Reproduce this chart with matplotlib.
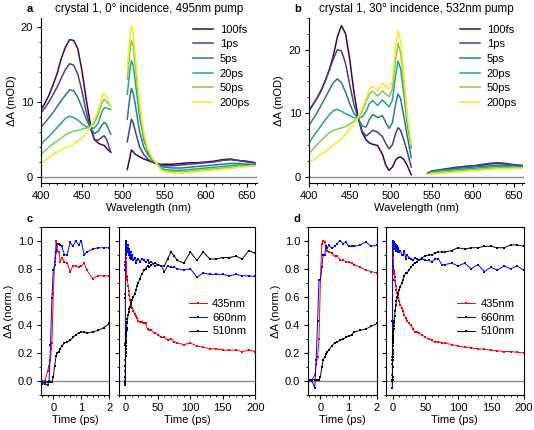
import numpy as np
import matplotlib
matplotlib.use("Agg")
import matplotlib.pyplot as plt
from matplotlib.ticker import MultipleLocator

plt.rcParams['font.family'] = ['Liberation Sans', 'DejaVu Sans']
plt.rcParams['font.size'] = 8
plt.rcParams['xtick.major.size'] = 3
plt.rcParams['ytick.major.size'] = 3
plt.rcParams['xtick.minor.size'] = 1.6
plt.rcParams['ytick.minor.size'] = 1.6
plt.rcParams['xtick.major.pad'] = 2.5
plt.rcParams['ytick.major.pad'] = 2.5
plt.rcParams['axes.linewidth'] = 0.8

delays = ['100fs', '1ps', '5ps', '20ps', '50ps', '200ps']

# ---- panel a: 0 deg incidence, 495nm pump ----
a_wl_vis = [400, 405, 410, 415, 420, 425, 430, 435, 440, 445, 450, 455, 460, 465, 470, 474, 477, 480, 485]
a_vis = [
    [8.9, 9.8, 10.9, 12.3, 13.8, 15.8, 17.3, 18.3, 18.2, 17.1, 14.2, 10.5, 7.2, 5.0, 4.5, 4.3, 4.2, 3.8, 3.3],
    [8.5, 9.2, 10.0, 11.0, 12.0, 13.2, 14.3, 15.1, 14.9, 13.7, 11.5, 8.8, 6.6, 5.0, 4.9, 5.3, 5.5, 5.0, 3.3],
    [6.6, 7.2, 7.9, 8.6, 9.4, 10.2, 10.9, 11.6, 11.5, 10.6, 9.3, 7.8, 6.6, 5.8, 6.1, 6.9, 7.3, 7.0, 5.7],
    [4.3, 4.9, 5.4, 6.0, 6.6, 7.2, 7.8, 8.1, 7.9, 7.6, 7.1, 6.7, 6.6, 6.5, 7.2, 8.6, 9.2, 9.2, 9.0],
    [2.9, 3.5, 4.0, 4.4, 4.8, 5.2, 5.6, 5.9, 6.1, 6.2, 6.4, 6.5, 6.6, 7.2, 8.4, 9.8, 10.4, 10.0, 9.4],
    [1.8, 2.2, 2.6, 3.0, 3.3, 3.6, 3.9, 4.1, 4.4, 4.8, 5.2, 5.8, 6.6, 7.7, 9.0, 10.6, 11.2, 10.6, 9.5],
]
a_wl_red = [505, 508, 510, 512, 515, 520, 525, 530, 535, 540, 545, 550, 560, 570, 580, 590, 600, 610, 620, 630, 640, 650, 660]
a_red = [
    [1.0, 2.5, 3.6, 3.4, 3.0, 2.7, 2.4, 2.2, 2.0, 1.8, 1.7, 1.7, 1.7, 1.8, 1.9, 1.9, 2.0, 2.1, 2.3, 2.4, 2.2, 2.1, 1.9],
    [4.7, 6.5, 7.7, 7.3, 6.0, 4.0, 3.0, 2.4, 2.0, 1.8, 1.6, 1.5, 1.5, 1.6, 1.7, 1.8, 1.9, 2.0, 2.2, 2.3, 2.2, 2.0, 1.9],
    [7.7, 10.5, 11.8, 11.3, 9.5, 6.0, 4.0, 3.0, 2.3, 1.9, 1.5, 1.3, 1.2, 1.2, 1.3, 1.4, 1.5, 1.6, 1.7, 1.8, 1.8, 1.7, 1.7],
    [11.0, 14.0, 15.5, 15.0, 12.5, 8.0, 5.0, 3.4, 2.4, 1.9, 1.3, 1.0, 0.9, 0.9, 1.0, 1.1, 1.2, 1.3, 1.4, 1.5, 1.6, 1.5, 1.6],
    [13.0, 16.5, 18.2, 17.5, 14.5, 9.0, 5.5, 3.6, 2.5, 1.9, 1.2, 0.8, 0.7, 0.7, 0.8, 0.9, 1.0, 1.1, 1.2, 1.3, 1.4, 1.4, 1.5],
    [14.5, 18.3, 20.1, 19.2, 16.0, 10.0, 6.0, 3.8, 2.6, 1.9, 1.0, 0.7, 0.5, 0.5, 0.6, 0.7, 0.8, 0.9, 1.0, 1.1, 1.3, 1.4, 1.5],
]

# ---- panel b: 30 deg incidence, 532nm pump ----
b_wl_vis = [400, 405, 410, 415, 420, 425, 430, 435, 440, 445, 450, 455, 460, 465, 470, 474, 478, 484, 490, 494, 498, 502, 506, 509, 512, 516, 520, 525]
b_vis = [
    [10.3, 11.3, 12.3, 13.5, 15.0, 16.8, 19.0, 22.0, 23.8, 22.5, 18.5, 13.5, 9.5, 7.0, 5.8, 5.3, 5.1, 4.9, 3.5, 1.8, 1.0, 1.5, 2.6, 3.0, 3.1, 2.7, 1.8, 0.3],
    [10.3, 11.3, 12.3, 13.6, 15.0, 16.7, 18.5, 20.0, 19.8, 17.8, 14.5, 11.5, 9.3, 7.2, 6.4, 6.8, 7.3, 7.0, 6.3, 5.2, 4.4, 5.0, 6.8, 7.7, 7.3, 5.8, 4.0, 1.5],
    [8.0, 9.0, 10.0, 11.2, 12.4, 13.6, 14.8, 15.4, 14.8, 13.3, 11.5, 10.0, 9.3, 8.0, 7.8, 9.0, 9.8, 9.3, 9.6, 8.5, 7.6, 8.5, 11.5, 13.0, 12.3, 9.5, 6.5, 3.0],
    [5.2, 6.2, 7.1, 8.0, 8.9, 9.7, 10.4, 10.6, 10.3, 9.9, 9.6, 9.3, 9.3, 9.4, 10.3, 11.5, 12.0, 11.2, 12.1, 11.5, 11.0, 12.0, 16.0, 18.2, 17.0, 13.0, 8.5, 4.5],
    [3.5, 4.3, 5.0, 5.7, 6.3, 6.9, 7.3, 7.5, 7.7, 7.9, 8.3, 8.7, 9.3, 10.2, 11.8, 13.0, 13.5, 12.7, 13.5, 13.0, 12.6, 13.8, 18.5, 21.0, 19.5, 14.5, 9.5, 5.0],
    [2.1, 2.6, 3.0, 3.5, 3.9, 4.4, 5.0, 5.4, 6.0, 6.7, 7.5, 8.3, 9.3, 10.6, 12.3, 13.7, 14.3, 13.5, 14.7, 14.2, 13.8, 15.0, 20.5, 23.0, 21.5, 16.0, 10.0, 5.0],
]
b_wl_red = [545, 550, 560, 570, 580, 590, 600, 610, 620, 630, 640, 650, 660]
b_red = [
    [0.5, 0.8, 1.0, 1.2, 1.4, 1.6, 1.7, 1.8, 2.0, 2.1, 2.0, 1.8, 1.7],
    [0.6, 0.9, 1.1, 1.3, 1.5, 1.6, 1.7, 1.9, 2.1, 2.2, 2.1, 1.9, 1.8],
    [0.5, 0.8, 1.0, 1.1, 1.3, 1.4, 1.5, 1.6, 1.7, 1.8, 1.8, 1.7, 1.6],
    [0.5, 0.7, 0.9, 1.0, 1.1, 1.2, 1.3, 1.4, 1.5, 1.6, 1.6, 1.5, 1.5],
    [0.4, 0.6, 0.7, 0.8, 0.9, 1.0, 1.1, 1.2, 1.3, 1.4, 1.4, 1.4, 1.4],
    [0.3, 0.4, 0.5, 0.6, 0.7, 0.8, 0.9, 1.0, 1.1, 1.2, 1.2, 1.3, 1.3],
]

# ---- kinetics (normalised) ----
time_ps = [-0.4, -0.3, -0.2, -0.15, -0.1, -0.05, 0, 0.05, 0.1, 0.15, 0.2, 0.25, 0.3, 0.4, 0.5, 0.6,
           0.7, 0.8, 0.9, 1.0, 1.1, 1.2, 1.4, 1.6, 1.8, 2.0,
           2.5, 3, 4, 5, 6, 7, 8, 9, 10, 12, 14, 16, 18, 20, 22, 25, 28, 31, 34, 37, 40, 45, 50,
           55, 60, 65, 70, 75, 80, 90, 100, 110, 120, 130, 140, 150, 160, 170, 180, 190, 200]

c_435 = [0.0, 0.0, 0.07, 0.11, 0.15, 0.27, 0.62, 0.85, 1.0, 0.93, 0.92, 0.85, 0.88, 0.85, 0.84, 0.78,
         0.82, 0.82, 0.81, 0.82, 0.84, 0.79, 0.73, 0.75, 0.75, 0.75,
         0.74, 0.72, 0.68, 0.64, 0.61, 0.58, 0.56, 0.54, 0.52, 0.50, 0.48, 0.46, 0.45, 0.43, 0.42, 0.42, 0.41, 0.41, 0.37, 0.36, 0.36, 0.34, 0.33,
         0.31, 0.31, 0.29, 0.30, 0.28, 0.27, 0.26, 0.27, 0.25, 0.24, 0.23, 0.23, 0.22, 0.22, 0.22, 0.21, 0.22, 0.21]
c_660 = [-0.02, -0.02, -0.03, 0.0, 0.26, 0.59, 0.79, 0.83, 0.92, 0.98, 0.98, 0.97, 0.96, 0.90, 0.90, 0.99,
         0.96, 1.0, 0.97, 1.0, 0.90, 0.92, 0.94, 0.95, 0.95, 0.95,
         0.95, 0.92, 0.97, 0.90, 0.94, 0.88, 0.92, 0.87, 0.90, 0.86, 0.88, 0.84, 0.86, 0.87, 0.85, 0.87, 0.86, 0.85, 0.86, 0.84, 0.85, 0.82, 0.83,
         0.82, 0.78, 0.82, 0.81, 0.81, 0.80, 0.79, 0.80, 0.74, 0.77, 0.76, 0.76, 0.76, 0.75, 0.76, 0.75, 0.75, 0.745]
c_510 = [-0.01, -0.01, -0.01, -0.01, -0.01, -0.01, 0.03, 0.11, 0.18, 0.20, 0.21, 0.23, 0.25, 0.27, 0.28, 0.29,
         0.31, 0.33, 0.34, 0.35, 0.35, 0.34, 0.35, 0.36, 0.38, 0.41,
         0.42, 0.44, 0.47, 0.49, 0.51, 0.53, 0.55, 0.56, 0.58, 0.60, 0.62, 0.65, 0.68, 0.70, 0.73, 0.76, 0.79, 0.80, 0.82, 0.81, 0.83, 0.84, 0.83,
         0.82, 0.82, 0.87, 0.92, 0.89, 0.86, 0.84, 0.92, 0.86, 0.92, 0.87, 0.87, 0.88, 0.88, 0.89, 0.87, 0.93, 0.91]

d_435 = [0.0, 0.01, 0.04, 0.12, 0.17, 0.30, 0.72, 0.98, 1.0, 0.99, 0.94, 0.93, 0.92, 0.91, 0.89, 0.89,
         0.86, 0.86, 0.85, 0.85, 0.84, 0.83, 0.81, 0.79, 0.78, 0.77,
         0.76, 0.74, 0.71, 0.68, 0.65, 0.63, 0.61, 0.59, 0.57, 0.54, 0.52, 0.50, 0.47, 0.45, 0.43, 0.41, 0.40, 0.37, 0.35, 0.35, 0.34, 0.33, 0.31,
         0.30, 0.29, 0.28, 0.28, 0.27, 0.27, 0.26, 0.25, 0.24, 0.235, 0.23, 0.225, 0.22, 0.215, 0.21, 0.21, 0.205, 0.20]
d_660 = [0.0, 0.0, -0.05, 0.15, 0.43, 0.72, 0.72, 0.81, 0.90, 0.90, 0.96, 0.95, 0.97, 0.945, 0.96, 0.98,
         1.0, 0.98, 0.99, 0.96, 0.96, 0.96, 0.97, 0.99, 0.96, 0.97,
         0.96, 0.98, 0.94, 0.97, 0.93, 0.96, 0.92, 0.95, 0.92, 0.93, 0.90, 0.90, 0.93, 0.87, 0.90, 0.88, 0.87, 0.86, 0.88, 0.87, 0.86, 0.87, 0.86,
         0.86, 0.85, 0.87, 0.87, 0.83, 0.83, 0.84, 0.82, 0.84, 0.80, 0.83, 0.78, 0.81, 0.79, 0.82, 0.80, 0.82, 0.79]
d_510 = [0.01, 0.01, 0.01, 0.01, 0.01, 0.01, 0.03, 0.10, 0.15, 0.17, 0.19, 0.21, 0.22, 0.25, 0.27, 0.28,
         0.29, 0.30, 0.31, 0.32, 0.33, 0.35, 0.36, 0.37, 0.39, 0.41,
         0.43, 0.46, 0.50, 0.54, 0.57, 0.60, 0.62, 0.63, 0.65, 0.67, 0.70, 0.72, 0.75, 0.77, 0.77, 0.79, 0.81, 0.83, 0.84, 0.85, 0.86, 0.88, 0.89,
         0.90, 0.90, 0.91, 0.92, 0.92, 0.92, 0.93, 0.95, 0.94, 0.95, 0.95, 0.96, 0.96, 0.95, 0.95, 0.97, 0.97, 0.96]

probe_labels = ['435nm', '660nm', '510nm']
probe_colors = ['red', 'blue', 'black']

colors = plt.cm.viridis(np.linspace(0, 1, len(delays)))

fig = plt.figure(figsize=(5.34, 4.30), dpi=100)


def spectra_panel(rect, wl1, s1, wl2, s2, ylim, ystep, yminor, title, letter):
    ax = fig.add_axes(rect)
    ax.axhline(0, color='#8c8c8c', lw=1.0, zorder=0)
    for i, name in enumerate(delays):
        ax.plot(wl1, s1[i], color=colors[i], lw=1.1, label=name)
        ax.plot(wl2, s2[i], color=colors[i], lw=1.1)
    ax.set_xlim(400, 662)
    ax.set_ylim(*ylim)
    ax.xaxis.set_major_locator(MultipleLocator(50))
    ax.xaxis.set_minor_locator(MultipleLocator(10))
    ax.yaxis.set_major_locator(MultipleLocator(ystep))
    ax.yaxis.set_minor_locator(MultipleLocator(yminor))
    ax.spines['top'].set_visible(False)
    ax.spines['right'].set_visible(False)
    ax.set_xlabel('Wavelength (nm)', labelpad=2)
    ax.set_ylabel('ΔA (mOD)', labelpad=3)
    ax.set_title(title, fontsize=8.4, pad=4)
    ax.legend(loc='upper right', frameon=False, handlelength=1.8, labelspacing=0.42,
              borderaxespad=0.2, handletextpad=0.6)
    fig.text(rect[0] - 0.027, 0.978, letter, fontweight='bold', fontsize=8, va='center')
    return ax


spectra_panel([0.0762, 0.5744, 0.4045, 0.384], a_wl_vis, a_vis, a_wl_red, a_red,
              (-0.8, 21.2), 10, 2, 'crystal 1, 0° incidence, 495nm pump', 'a')
spectra_panel([0.578, 0.5744, 0.4026, 0.384], b_wl_vis, b_vis, b_wl_red, b_red,
              (-1.0, 25.0), 10, 2.5, 'crystal 1, 30° incidence, 532nm pump', 'b')


def kinetics_panel(x0, w_left, gap, w_right, series, letter):
    bottom, height = 0.0814, 0.3914
    axl = fig.add_axes([x0, bottom, w_left, height])
    axr = fig.add_axes([x0 + w_left + gap, bottom, w_right, height])
    for ax in (axl, axr):
        ax.axhline(0, color='#8c8c8c', lw=1.0, zorder=0)
        for vals, lab, col in zip(series, probe_labels, probe_colors):
            ax.plot(time_ps, vals, color=col, lw=0.7, marker='s', ms=1.6, mew=0,
                    label=lab)
        ax.set_ylim(-0.1, 1.1)
        ax.yaxis.set_major_locator(MultipleLocator(0.2))
        ax.yaxis.set_minor_locator(MultipleLocator(0.1))
        ax.set_xlabel('Time (ps)', labelpad=2)
    axl.set_xlim(-0.45, 2)
    axl.xaxis.set_major_locator(MultipleLocator(1))
    axl.xaxis.set_minor_locator(MultipleLocator(0.2))
    axl.yaxis.set_major_formatter(plt.FormatStrFormatter('%.1f'))
    axl.set_ylabel('ΔA (norm.)', labelpad=3)
    axr.set_xlim(-10, 200)
    axr.xaxis.set_major_locator(MultipleLocator(50))
    axr.xaxis.set_minor_locator(MultipleLocator(10))
    axr.tick_params(axis='y', labelleft=False)
    axr.legend(loc='center right', bbox_to_anchor=(1.0, 0.46), frameon=False,
               handlelength=1.6, labelspacing=0.35, handletextpad=0.5, borderaxespad=0.4)
    fig.text(x0 - 0.027, 0.49, letter, fontweight='bold', fontsize=8, va='center')


kinetics_panel(0.0762, 0.1285, 0.0181, 0.2552, [c_435, c_660, c_510], 'c')
kinetics_panel(0.5762, 0.1298, 0.0168, 0.2579, [d_435, d_660, d_510], 'd')

fig.savefig('out.png', dpi=100)
